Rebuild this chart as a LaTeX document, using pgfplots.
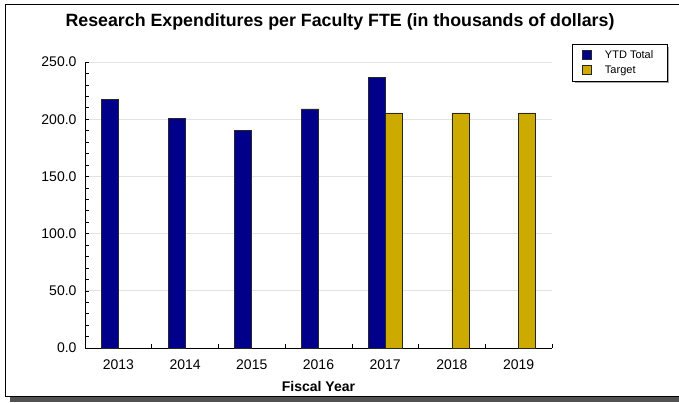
\documentclass[border=0pt]{standalone}
\usepackage{fontspec}
\setmainfont{Liberation Sans}
\usepackage{pgfplots}
\pgfplotsset{compat=1.18}
\usetikzlibrary{shadows}
\definecolor{ytd}{RGB}{0,0,139}
\definecolor{tgt}{RGB}{204,170,0}
\begin{document}
\begin{tikzpicture}[x=1pt,y=1pt, every shadow/.style={fill=gray!70, opacity=1}]
\useasboundingbox (0,0) rectangle (679,402);
\fill[black!68] (10,0) rectangle (679,5);
\draw[line width=1pt] (679,397.5) -- (5.5,397.5) -- (5.5,5.5) -- (679,5.5);
\node[font=\bfseries\fontsize{17.8}{20}\selectfont] at (340,380) {Research Expenditures per Faculty FTE (in thousands of dollars)};
\begin{axis}[
  at={(85pt,54pt)}, anchor=south west,
  scale only axis, width=467pt, height=286pt,
  xmin=-0.5, xmax=6.5, ymin=0, ymax=250,
  axis x line=bottom, axis y line=left,
  axis line style={-, black, line width=0.8pt},
  tick align=inside,
  xtick={0,1,2,3,4,5,6},
  xticklabels={2013,2014,2015,2016,2017,2018,2019},
  major x tick style={draw=none},
  minor xtick={0.5,1.5,2.5,3.5,4.5,5.5,6.5},
  ytick={0,50,100,150,200,250},
  yticklabels={0.0,50.0,100.0,150.0,200.0,250.0},
  minor ytick={10,20,30,40,60,70,80,90,110,120,130,140,160,170,180,190,210,220,230,240},
  major tick length=4pt, minor tick length=4pt,
  tick style={black, line width=0.6pt},
  ymajorgrids, grid style={gray!22, line width=0.8pt},
  ticklabel style={font=\fontsize{14}{16}\selectfont},
  yticklabel style={anchor=east, xshift=-5pt},
  xticklabel style={anchor=center, yshift=-17pt},
  xlabel={Fiscal Year},
  xlabel style={font=\bfseries\fontsize{14}{16}\selectfont, at={(axis description cs:0.5,0)}, anchor=center, yshift=-38pt},
  legend style={at={(1.043,1.063)}, anchor=north west, draw=black, line width=0.6pt,
    font=\fontsize{11}{12}\selectfont, inner xsep=6pt, inner ysep=4pt, row sep=2pt,
    drop shadow={shadow xshift=2.5pt, shadow yshift=-2.5pt}},
  legend cell align=left,
  legend image code/.code={\path (-4pt,0pt) (20pt,0pt); \draw[#1, line width=0.6pt, every shadow/.style={opacity=0, draw=none, fill=none}] (0pt,-4.5pt) rectangle (9pt,4.5pt);},
]
\addplot[ybar, bar width=17pt, bar shift=-8.5pt, fill=ytd, draw=black!85, line width=0.6pt]
  coordinates {(0,217.5) (1,200.5) (2,190.5) (3,209) (4,236.5)};
\addplot[ybar, bar width=17pt, bar shift=8.5pt, fill=tgt, draw=black!85, line width=0.6pt]
  coordinates {(4,205.5) (5,205.5) (6,205.5)};
\legend{\makebox[54pt][l]{YTD Total}, Target}
\end{axis}
\end{tikzpicture}
\end{document}
